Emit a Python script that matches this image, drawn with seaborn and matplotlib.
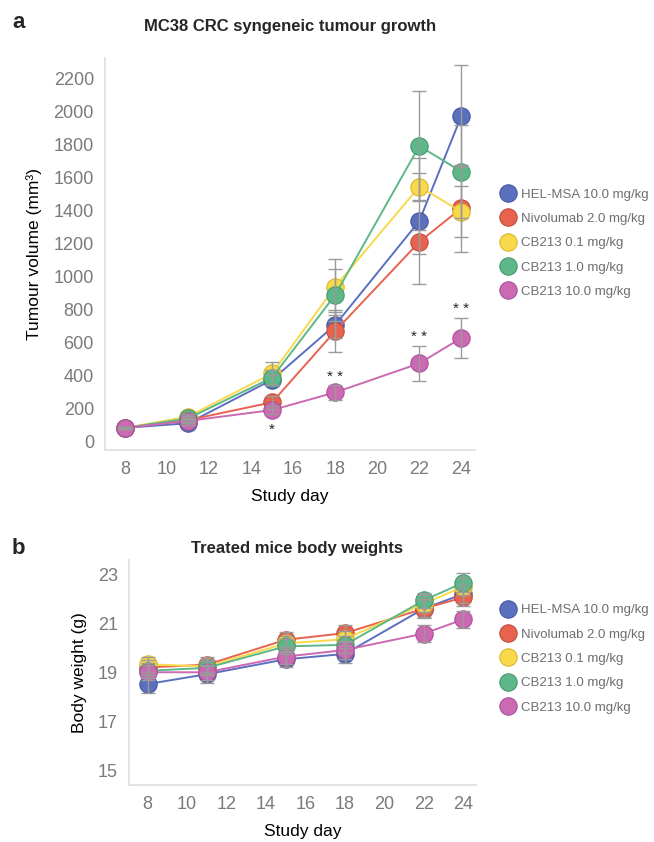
import pandas as pd
import numpy as np
import matplotlib.pyplot as plt
import seaborn as sns
from matplotlib.lines import Line2D

# data (mean +/- SEM)
days = [8, 11, 15, 18, 22, 24]
groups = ['HEL-MSA 10.0 mg/kg', 'Nivolumab 2.0 mg/kg', 'CB213 0.1 mg/kg',
          'CB213 1.0 mg/kg', 'CB213 10.0 mg/kg']
colors = ['#5B6FBF', '#E8634F', '#F9D94A', '#5CB888', '#CB69B2']
edges = ['#46579E', '#C24C3B', '#D9B830', '#469970', '#A9529A']

tumour_mean = {
    'HEL-MSA 10.0 mg/kg': [80, 108, 372, 704, 1334, 1971],
    'Nivolumab 2.0 mg/kg': [80, 127, 235, 667, 1207, 1412],
    'CB213 0.1 mg/kg': [80, 148, 410, 936, 1543, 1391],
    'CB213 1.0 mg/kg': [80, 137, 385, 886, 1789, 1634],
    'CB213 10.0 mg/kg': [80, 122, 188, 295, 471, 625],
}
tumour_sem = {
    'HEL-MSA 10.0 mg/kg': [6, 10, 30, 80, 384, 310],
    'Nivolumab 2.0 mg/kg': [6, 10, 40, 125, 75, 264],
    'CB213 0.1 mg/kg': [6, 15, 70, 170, 80, 155],
    'CB213 1.0 mg/kg': [6, 12, 45, 160, 336, 281],
    'CB213 10.0 mg/kg': [6, 10, 25, 45, 105, 123],
}

weight_mean = {
    'HEL-MSA 10.0 mg/kg': [18.54, 18.94, 19.55, 19.77, 21.62, 22.22],
    'Nivolumab 2.0 mg/kg': [19.22, 19.33, 20.35, 20.62, 21.62, 22.08],
    'CB213 0.1 mg/kg': [19.35, 19.25, 20.2, 20.37, 21.82, 22.52],
    'CB213 1.0 mg/kg': [19.08, 19.2, 20.08, 20.14, 21.96, 22.68],
    'CB213 10.0 mg/kg': [19.02, 19.02, 19.66, 19.93, 20.6, 21.18],
}
weight_sem = {
    'HEL-MSA 10.0 mg/kg': [0.35, 0.35, 0.3, 0.38, 0.4, 0.35],
    'Nivolumab 2.0 mg/kg': [0.3, 0.3, 0.3, 0.35, 0.35, 0.35],
    'CB213 0.1 mg/kg': [0.3, 0.3, 0.3, 0.35, 0.35, 0.35],
    'CB213 1.0 mg/kg': [0.3, 0.3, 0.3, 0.35, 0.3, 0.38],
    'CB213 10.0 mg/kg': [0.3, 0.3, 0.3, 0.35, 0.35, 0.35],
}

# significance marks: (day, label, y in data units)
stars = [(15, '*', 70), (18, '* *', 390), (22, '* *', 630), (24, '* *', 800)]

draw_order = [4, 0, 3, 2, 1]


def to_long(means, sems):
    rows = []
    for g in groups:
        for d, m, s in zip(days, means[g], sems[g]):
            rows.append({'day': d, 'group': g, 'mean': m, 'sem': s})
    return pd.DataFrame(rows)


def draw_panel(ax, df, ylim, yticks, ylabel):
    for i in draw_order:
        g = groups[i]
        sub = df[df['group'] == g]
        sns.lineplot(data=sub, x='day', y='mean', ax=ax, color=colors[i],
                     lw=1.4, marker='o', markersize=12.5, markeredgecolor=edges[i],
                     markeredgewidth=0.8, legend=False, zorder=3 + i * 0.1)
    for i in draw_order:
        sub = df[df['group'] == groups[i]]
        ax.errorbar(sub['day'], sub['mean'], yerr=sub['sem'], fmt='none',
                    ecolor='#9A9A9A', elinewidth=1.0, capsize=5, capthick=1.0,
                    zorder=5)
    ax.set_xlim(7.05, 24.65)
    ax.set_xticks(range(8, 25, 2))
    ax.set_ylim(*ylim)
    ax.set_yticks(yticks)
    ax.set_xlabel('Study day', fontsize=12.5, color='black', labelpad=8)
    ax.set_ylabel(ylabel, fontsize=12.5, color='black', labelpad=8)
    for s in ['top', 'right']:
        ax.spines[s].set_visible(False)
    for s in ['left', 'bottom']:
        ax.spines[s].set_color('#DDDDE3')
        ax.spines[s].set_linewidth(1.2)
    ax.tick_params(colors='#DDDDE3', labelcolor='#7A7A7A', labelsize=13,
                   length=3, width=0.8, pad=5)
    ax.grid(False)


def add_legend(ax, y0):
    handles = [Line2D([], [], ls='none', marker='o', markersize=12.5,
                      markerfacecolor=colors[i], markeredgecolor=edges[i],
                      markeredgewidth=0.8) for i in range(len(groups))]
    ax.legend(handles, groups, loc='upper left', bbox_to_anchor=(1.043, y0),
              frameon=False, fontsize=9.5, labelcolor='#6E6E6E',
              handletextpad=0.35, labelspacing=0.92, borderaxespad=0.3,
              handlelength=1.2)


sns.set_style('white')
plt.rcParams['font.family'] = ['Liberation Sans', 'DejaVu Sans']

fig = plt.figure(figsize=(6.54, 8.42), dpi=100)
ax1 = fig.add_axes([0.1606, 0.4656, 0.5657, 0.4656])
ax2 = fig.add_axes([0.1972, 0.0677, 0.5306, 0.2672])

draw_panel(ax1, to_long(tumour_mean, tumour_sem), (-54, 2323),
           range(0, 2201, 200), 'Tumour volume (mm³)')
for d, lab, y in stars:
    ax1.text(d, y, lab, ha='center', va='center', fontsize=11, color='#222222')
add_legend(ax1, 0.691)

draw_panel(ax2, to_long(weight_mean, weight_sem), (14.41, 23.61),
           [15, 17, 19, 21, 23], 'Body weight (g)')
add_legend(ax2, 0.845)

fig.text(290 / 654, 1 - 27 / 842, 'MC38 CRC syngeneic tumour growth',
         ha='center', va='center', fontsize=12, fontweight='bold')
fig.text(297 / 654, 1 - 549 / 842, 'Treated mice body weights',
         ha='center', va='center', fontsize=12, fontweight='bold')
fig.text(12 / 654, 1 - 22 / 842, 'a', ha='left', va='center',
         fontsize=16, fontweight='bold')
fig.text(12 / 654, 1 - 548 / 842, 'b', ha='left', va='center',
         fontsize=16, fontweight='bold')

fig.savefig('out.png', dpi=100, facecolor='white')
